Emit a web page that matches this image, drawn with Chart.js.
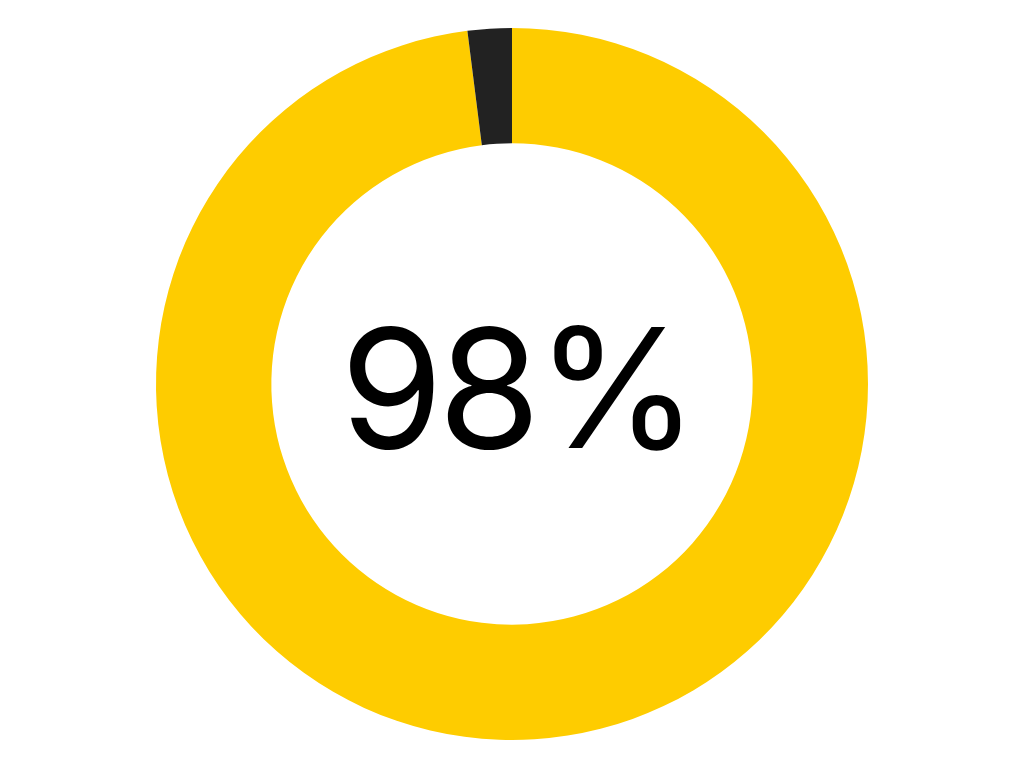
<!DOCTYPE html>
<html>
<head>
<meta charset="utf-8">
<script src="https://cdn.jsdelivr.net/npm/chart.js@4"></script>
<style>
  html, body { margin: 0; padding: 0; background: #fff; }
  #wrap { width: 1024px; height: 768px; }
</style>
</head>
<body>
<div id="wrap"><canvas id="chartProgresso"></canvas></div>
<script>
// --- dados ---
const rotulos = ['Concluído', 'Restante'];
const valores = [98, 2];
const cores = ['#fecc00', '#222222'];
const textoCentro = '98%';

// texto no meio da rosca (baseline um pouco abaixo do centro)
const pluginCentro = {
    id: 'textoCentro',
    afterDraw(chart) {
        const meta = chart.getDatasetMeta(0).data[0];
        if (!meta) return;
        const ctx = chart.ctx;
        ctx.save();
        ctx.font = '166px Inter, "Liberation Sans", sans-serif';
        if ('letterSpacing' in ctx) ctx.letterSpacing = '-5px';
        ctx.fillStyle = '#000';
        ctx.textAlign = 'center';
        ctx.textBaseline = 'alphabetic';
        ctx.fillText(textoCentro, meta.x + 5, meta.y + 64);
        ctx.restore();
    }
};

new Chart(document.getElementById('chartProgresso').getContext('2d'), {
    type: 'doughnut',
    data: {
        labels: rotulos,
        datasets: [{ data: valores, backgroundColor: cores, borderWidth: 0 }]
    },
    options: {
        responsive: true,
        maintainAspectRatio: false,
        animation: false,
        cutout: '67.6%',
        layout: { padding: 28 },
        plugins: { legend: { display: false }, tooltip: { enabled: false } }
    },
    plugins: [pluginCentro]
});
</script>
</body>
</html>
